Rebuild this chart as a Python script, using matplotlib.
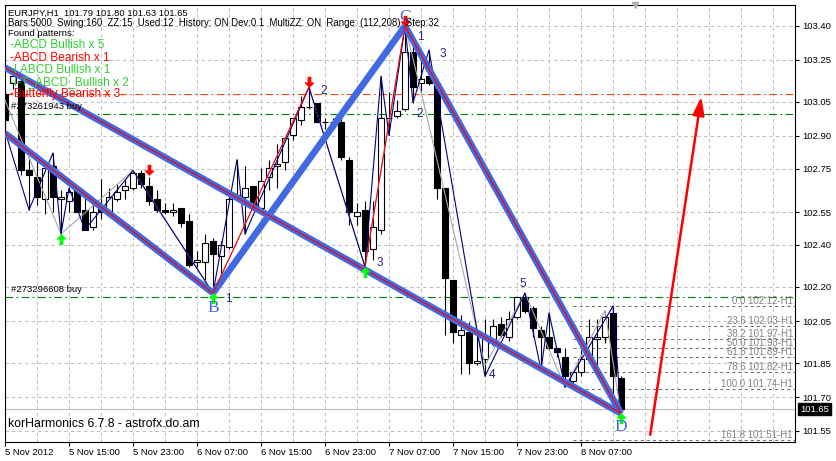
import matplotlib.pyplot as plt
from matplotlib.path import Path
from matplotlib.transforms import blended_transform_factory
import numpy as np

plt.rcParams['font.family'] = ['Liberation Sans', 'DejaVu Sans']
plt.rcParams['lines.scale_dashes'] = False

# ---- EURJPY H1 bars ----
opens = [103.09, 103.14, 103.15, 102.74, 102.71, 102.61, 102.76, 102.61, 102.60, 102.65,
         102.56, 102.48, 102.57, 102.55, 102.61, 102.65, 102.66, 102.73, 102.67, 102.61,
         102.56, 102.55, 102.57, 102.51, 102.32, 102.32, 102.42, 102.35, 102.39, 102.62,
         102.62, 102.67, 102.57, 102.71, 102.76, 102.78, 102.90, 102.97, 103.03, 103.05,
         102.96, 102.96, 102.96, 102.79, 102.53, 102.56, 102.38, 102.47, 102.98, 102.99,
         103.02, 103.28, 103.14, 103.17, 103.14, 102.66, 102.24, 101.99, 102.00, 101.86,
         101.88, 101.97, 102.04, 101.98, 102.07, 102.16, 102.11, 102.01, 101.98, 101.93,
         101.89, 101.78, 101.82, 101.88, 101.97, 101.98, 102.09, 101.79]
highs = [103.12, 103.21, 103.18, 102.80, 102.79, 102.77, 102.82, 102.65, 102.66, 102.67,
         102.63, 102.59, 102.70, 102.66, 102.68, 102.70, 102.74, 102.74, 102.71, 102.65,
         102.59, 102.59, 102.57, 102.54, 102.37, 102.45, 102.43, 102.42, 102.62, 102.79,
         102.76, 102.67, 102.75, 102.79, 102.86, 102.89, 102.98, 103.08, 103.12, 103.05,
         102.98, 102.98, 102.99, 102.80, 102.59, 102.60, 102.60, 103.17, 103.10, 103.06,
         103.40, 103.34, 103.27, 103.29, 103.14, 102.66, 102.24, 102.08, 102.05, 101.99,
         102.06, 102.06, 102.07, 102.10, 102.16, 102.18, 102.12, 102.03, 102.09, 101.93,
         101.93, 101.82, 101.92, 102.06, 102.06, 102.10, 102.12, 101.80]
lows = [102.91, 103.11, 102.72, 102.56, 102.58, 102.54, 102.55, 102.45, 102.55, 102.55,
        102.47, 102.47, 102.52, 102.55, 102.60, 102.61, 102.65, 102.66, 102.58, 102.55,
        102.54, 102.53, 102.48, 102.30, 102.30, 102.24, 102.18, 102.25, 102.38, 102.61,
        102.45, 102.56, 102.56, 102.65, 102.66, 102.74, 102.88, 102.95, 103.02, 102.96,
        102.93, 102.93, 102.79, 102.49, 102.49, 102.30, 102.33, 102.45, 102.90, 102.98,
        103.01, 103.05, 103.10, 103.13, 102.61, 101.99, 101.95, 101.81, 101.81, 101.85,
        101.80, 101.94, 101.98, 101.96, 102.06, 102.09, 101.98, 101.83, 101.92, 101.89,
        101.75, 101.77, 101.80, 101.87, 101.82, 101.95, 101.67, 101.63]
closes = [102.97, 103.17, 102.74, 102.72, 102.62, 102.75, 102.62, 102.62, 102.64, 102.55,
          102.47, 102.55, 102.55, 102.62, 102.64, 102.67, 102.73, 102.68, 102.60, 102.56,
          102.55, 102.56, 102.50, 102.31, 102.33, 102.41, 102.36, 102.40, 102.61, 102.63,
          102.66, 102.57, 102.69, 102.75, 102.77, 102.89, 102.98, 103.03, 103.03, 102.96,
          102.96, 102.96, 102.80, 102.55, 102.55, 102.37, 102.48, 102.98, 102.98, 103.01,
          103.28, 103.12, 103.16, 103.14, 102.66, 102.25, 102.00, 102.01, 101.86, 101.87,
          101.98, 102.03, 101.99, 102.06, 102.16, 102.10, 102.02, 101.98, 101.93, 101.91,
          101.80, 101.82, 101.88, 101.98, 101.98, 102.07, 101.80, 101.65]

time_labels = ['5 Nov 2012', '5 Nov 15:00', '5 Nov 23:00', '6 Nov 07:00', '6 Nov 15:00',
               '6 Nov 23:00', '7 Nov 07:00', '7 Nov 15:00', '7 Nov 23:00', '8 Nov 07:00']
grid_prices = [103.400, 103.245, 103.053, 102.898, 102.747, 102.550,
               102.400, 102.208, 102.052, 101.860, 101.705, 101.550]
price_labels = ['103.40', '103.25', '103.05', '102.90', '102.75', '102.55',
                '102.40', '102.20', '102.05', '101.85', '101.70', '101.55']

# zigzags
zz_bars = [0, 3, 6, 7, 8, 10, 16, 26, 29, 30, 38, 45, 47, 48, 50, 51, 53, 60, 65, 67, 68, 70, 76, 77]
zz_prices = [102.92, 102.56, 102.82, 102.45, 102.66, 102.47, 102.74, 102.18, 102.79, 102.45,
             103.12, 102.30, 103.17, 102.90, 103.40, 103.05, 103.29, 101.80, 102.18, 101.83,
             102.09, 101.75, 102.12, 101.63]
zz_slow_bars = [0, 7, 16, 26, 38, 45, 50, 52, 60, 65, 70, 75, 77]
zz_slow_prices = [103.06, 102.45, 102.74, 102.18, 103.12, 102.30, 103.40, 103.10,
                  101.85, 102.18, 101.75, 102.10, 101.63]

# pattern legs
leg_bars = [[0, 77], [0, 26], [26, 50], [50, 77]]
leg_prices = [[103.21, 101.63], [102.91, 102.18], [102.18, 103.40], [103.40, 101.63]]
leg_core = [True, True, False, True]
abcd_bars = [[26, 38], [45, 50]]
abcd_prices = [[102.18, 103.12], [102.30, 103.40]]

point_names = ['B', 'C', 'D']
point_bars = [26, 50, 77]
point_prices = [102.18, 103.40, 101.63]

wave_text = ['1', '2', '3', '1', '2', '3', '4', '5']
wave_bars = [26, 38, 45, 50, 51, 53, 60, 65]
wave_prices = [102.18, 103.12, 102.30, 103.40, 103.05, 103.29, 101.80, 102.18]

buy_bars = [7, 26, 45, 77]
buy_prices = [102.45, 102.18, 102.30, 101.63]
sell_bars = [18, 38, 50]
sell_prices = [102.72, 103.12, 103.40]

fib_ratios = [0.0, 23.6, 38.2, 50.0, 61.8, 78.6, 100.0, 161.8]
fib_prices = [102.12, 102.03, 101.97, 101.93, 101.89, 101.82, 101.74, 101.51]

order_prices = [103.00, 102.16]
order_labels = ['#273261943 buy', '#273296608 buy']
target_price = 103.09
proj_bars = [80.6, 87.1]
proj_prices = [101.52, 103.09]

pattern_names = ['ABCD Bullish', 'ABCD Bearish', 'I ABCD Bullish', 'I-T_ABCD_Bullish', 'Butterfly Bearish']
pattern_counts = [5, 1, 1, 2, 3]

# ---- figure ----
W, H = 837, 461
fig = plt.figure(figsize=(W / 100, H / 100), dpi=100)
fig.patch.set_facecolor('white')
ax = fig.add_axes([5 / W, 1 - 442 / H, 790 / W, 437 / H])
ax.set_xlim(0, 98.75)
ax.set_ylim(101.4996, 103.4959)

for s in ax.spines.values():
    s.set_color('black')
    s.set_linewidth(0.8)

# axes / grid
ax.set_xticks(np.arange(0, 73, 8))
ax.set_xticklabels(time_labels, ha='left')
ax.set_xticks(np.arange(0, 99, 4), minor=True)
ax.tick_params(axis='x', which='minor', length=0)
ax.tick_params(axis='x', which='major', length=3, width=0.8, pad=1.5, labelsize=6.8)
ax.yaxis.tick_right()
ax.set_yticks(grid_prices)
ax.set_yticklabels(price_labels)
ax.tick_params(axis='y', length=3, width=0.8, pad=2, labelsize=6.8)
ax.grid(which='both', color='#c0c0c0', linestyle=(0, (2.5, 2.2)), linewidth=0.75)
ax.set_axisbelow(True)

# current price line
ax.axhline(closes[-1], color='#c0c0c0', lw=0.8, zorder=1)

# order / target lines
ax.axhline(target_price, color='#FF4500', lw=0.8, ls=(0, (5.5, 2.5, 1.2, 2.5)), zorder=1.5)
for p, lab in zip(order_prices, order_labels):
    ax.axhline(p, color='#008000', lw=0.8, ls=(0, (5.5, 2.5, 1.2, 2.5)), zorder=1.5)
    ax.annotate(lab, xy=(0, p), xytext=(6, 3), textcoords='offset pixels',
                fontsize=6.8, va='bottom', ha='left', zorder=9)

# fibo levels
for r, p in zip(fib_ratios, fib_prices):
    ax.plot([71, 98.75], [p, p], color='#707070', lw=0.75, ls=(0, (2.2, 2.2)), zorder=1.5)
    ax.text(98.5, p, f'{r:.1f} {p:.2f}-H1', ha='right', va='bottom', fontsize=6.9,
            color='#808080', zorder=1.6)

# candles
idx = np.arange(len(opens))
o = np.array(opens); c = np.array(closes)
ax.vlines(idx, lows, highs, color='black', lw=0.8, zorder=2)
bull = c >= o
ax.bar(idx[bull], c[bull] - o[bull], bottom=o[bull], width=0.65, color='white',
       edgecolor='black', linewidth=0.8, zorder=2.5)
ax.bar(idx[~bull], o[~bull] - c[~bull], bottom=c[~bull], width=0.65, color='black',
       edgecolor='black', linewidth=0.8, zorder=2.5)

# zigzags
ax.plot(zz_slow_bars, zz_slow_prices, color='#a8a8a8', lw=0.8, zorder=3)
ax.plot(zz_bars, zz_prices, color='#000080', lw=0.8, zorder=4)

# pattern legs
for xs, ys, core in zip(leg_bars, leg_prices, leg_core):
    ax.plot(xs, ys, color='#4169E1', lw=4.8, solid_capstyle='butt', zorder=5)
    if core:
        ax.plot(xs, ys, color='#FF0000', lw=0.8, zorder=6)
for xs, ys in zip(abcd_bars, abcd_prices):
    ax.plot(xs, ys, color='#FF0000', lw=0.8, zorder=6)

# signal arrows
up_v = [(0, 0), (0.45, -0.45), (0.15, -0.45), (0.15, -1), (-0.15, -1), (-0.15, -0.45), (-0.45, -0.45), (0, 0)]
up_arrow = Path(up_v, closed=True)
down_arrow = Path([(x, -y) for x, y in up_v], closed=True)
ax.plot(buy_bars, buy_prices, ls='none', marker=up_arrow, ms=15, mfc='#00FF00',
        mec='#00FF00', mew=0.4, zorder=8)
ax.plot(sell_bars, sell_prices, ls='none', marker=down_arrow, ms=15, mfc='#FF0000',
        mec='#FF0000', mew=0.4, zorder=8)

# point letters and wave numbers
letter_off = {'B': (0, -15), 'C': (0, 9), 'D': (0, -14)}
for n, b, p in zip(point_names, point_bars, point_prices):
    ax.annotate(n, xy=(b, p), xytext=letter_off[n], textcoords='offset pixels',
                ha='center', va='center', fontsize=12.5, color='#4169E1',
                family='Liberation Serif', zorder=9, annotation_clip=False)
wave_off = [(15, -6), (15, -4), (15, 4), (15, -11), (7, -11), (14, -4), (7, 1), (-2, 9)]
for t, b, p, off in zip(wave_text, wave_bars, wave_prices, wave_off):
    ax.annotate(t, xy=(b, p), xytext=off, textcoords='offset pixels', ha='center',
                va='center', fontsize=8.5, color='#20208c', zorder=9)

# projection arrow
ax.annotate('', xy=(proj_bars[1], proj_prices[1]), xytext=(proj_bars[0], proj_prices[0]),
            arrowprops=dict(arrowstyle='-|>,head_length=1.1,head_width=0.35',
                            color='#FF0000', lw=1.8, mutation_scale=10), zorder=7)

# price box
tr = blended_transform_factory(ax.transAxes, ax.transData)
ax.text(1.0 + 5 / 790, closes[-1], f'{closes[-1]:.2f}', transform=tr, ha='left',
        va='center', fontsize=6.8, color='white', zorder=10,
        bbox=dict(fc='black', ec='black', pad=1.3))

# chart shift marker
ax.plot([(635 - 5) / 790], [1.0], transform=ax.transAxes, marker='v', ms=5,
        color='#b0b0b0', clip_on=False, zorder=10)

# header texts
def fxy(x, y):
    return x / W, 1 - y / H

fig.text(*fxy(8, 13), f'EURJPY,H1  {opens[-1]:.2f} {highs[-1]:.2f} {lows[-1]:.2f} {closes[-1]:.2f}',
         fontsize=6.8, va='center')
fig.text(*fxy(8, 23), 'Bars:5000  Swing:160  ZZ:15  Used:12  History: ON Dev:0.1  '
         'MultiZZ: ON  Range: (112,208)  Step:32', fontsize=6.9, va='center')
fig.text(*fxy(8, 34), 'Found patterns:', fontsize=6.8, va='center')
for i, (n, k) in enumerate(zip(pattern_names, pattern_counts)):
    col = '#FF0000' if 'Bearish' in n else '#32CD32'
    fig.text(*fxy(10, 45.5 + 12.1 * i), f'-{n} x {k}', fontsize=8.6, color=col, va='center')
fig.text(*fxy(8, 424), 'korHarmonics 6.7.8 - astrofx.do.am', fontsize=8.8, va='center')

fig.savefig('out.png', dpi=100)
